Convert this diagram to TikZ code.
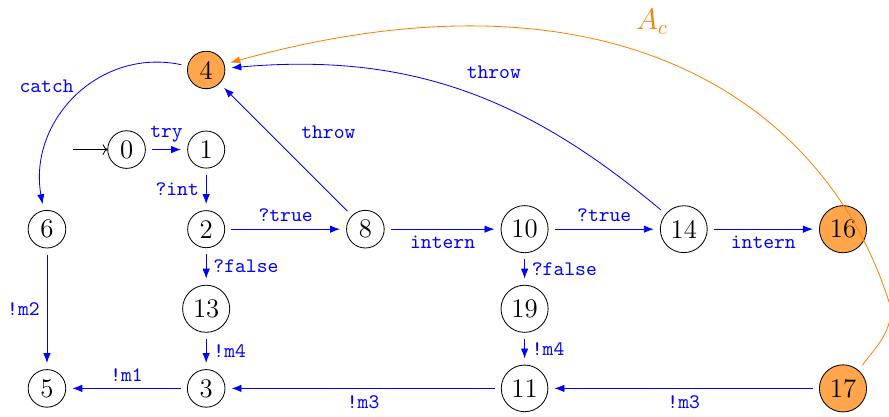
\documentclass[tikz,border=0pt]{standalone}
\usetikzlibrary{arrows.meta}
\begin{document}
\begin{tikzpicture}[x=38.6pt,y=38.6pt,
  st/.style={circle,draw,inner sep=2.6pt,outer sep=3.2pt,font=\fontsize{13}{15}\selectfont},
  acc/.style={st,fill=orange!70},
  tr/.style={draw=blue,-{Latex}},
  lab/.style={text=blue,font=\ttfamily}]
\useasboundingbox (-0.590,0.879) rectangle (10.578,-4.347);
\node[st]  (q0)  at (1,-1) {0};
\node[st]  (q1)  at (2,-1) {1};
\node[acc] (q4)  at (2,0)  {4};
\node[st]  (q6)  at (0,-2) {6};
\node[st]  (q2)  at (2,-2) {2};
\node[st]  (q8)  at (4,-2) {8};
\node[st]  (q10) at (6,-2) {10};
\node[st]  (q14) at (8,-2) {14};
\node[acc] (q16) at (10,-2) {16};
\node[st]  (q13) at (2,-3) {13};
\node[st]  (q19) at (6,-3) {19};
\node[st]  (q5)  at (0,-4) {5};
\node[st]  (q3)  at (2,-4) {3};
\node[st]  (q11) at (6,-4) {11};
\node[acc] (q17) at (10,-4) {17};
\coordinate (start) at (0.327,-1);

\draw[->,shorten >=-3.2pt] (start) -- (q0);
\draw[tr] (q0) -- node[lab,above]{try} (q1);
\draw[tr] (q1) -- node[lab,left]{?int} (q2);
\draw[tr] (q2) -- node[lab,above]{?true} (q8);
\draw[tr] (q8) -- node[lab,pos=.5,anchor=south west,xshift=4pt,yshift=2pt]{throw} (q4);
\draw[tr] (q8) -- node[lab,below]{intern} (q10);
\draw[tr] (q10) -- node[lab,above]{?true} (q14);
\draw[tr] (q14) to[out=140,in=5] node[lab,pos=.42,above,yshift=8pt]{throw} (q4);
\draw[tr] (q14) -- node[lab,below]{intern} (q16);
\draw[tr] (q2) -- node[lab,right]{?false} (q13);
\draw[tr] (q10) -- node[lab,right]{?false} (q19);
\draw[tr] (q13) -- node[lab,right]{!m4} (q3);
\draw[tr] (q19) -- node[lab,right]{!m4} (q11);
\draw[tr] (q17) -- node[lab,below]{!m3} (q11);
\draw[tr] (q11) -- node[lab,below]{!m3} (q3);
\draw[tr] (q3) -- node[lab,above]{!m1} (q5);
\draw[tr] (q6) -- node[lab,left]{!m2} (q5);
\draw[tr] (q4) to[out=168,in=100,looseness=1.1] node[lab,pos=.43,left,xshift=-3pt]{catch} (q6);

\draw[orange,-{Latex}] (q17.50) .. controls (10.377,-3.518) and (10.603,-3.329) .. (10.603,-2.995)
  .. controls (9.849,-0.477) and (7.199,1.445) .. (q4.17);
\node[text=orange,font=\fontsize{14}{16}\selectfont] (ac) at (7.60,0.603) {$A_c$};
\end{tikzpicture}
\end{document}
